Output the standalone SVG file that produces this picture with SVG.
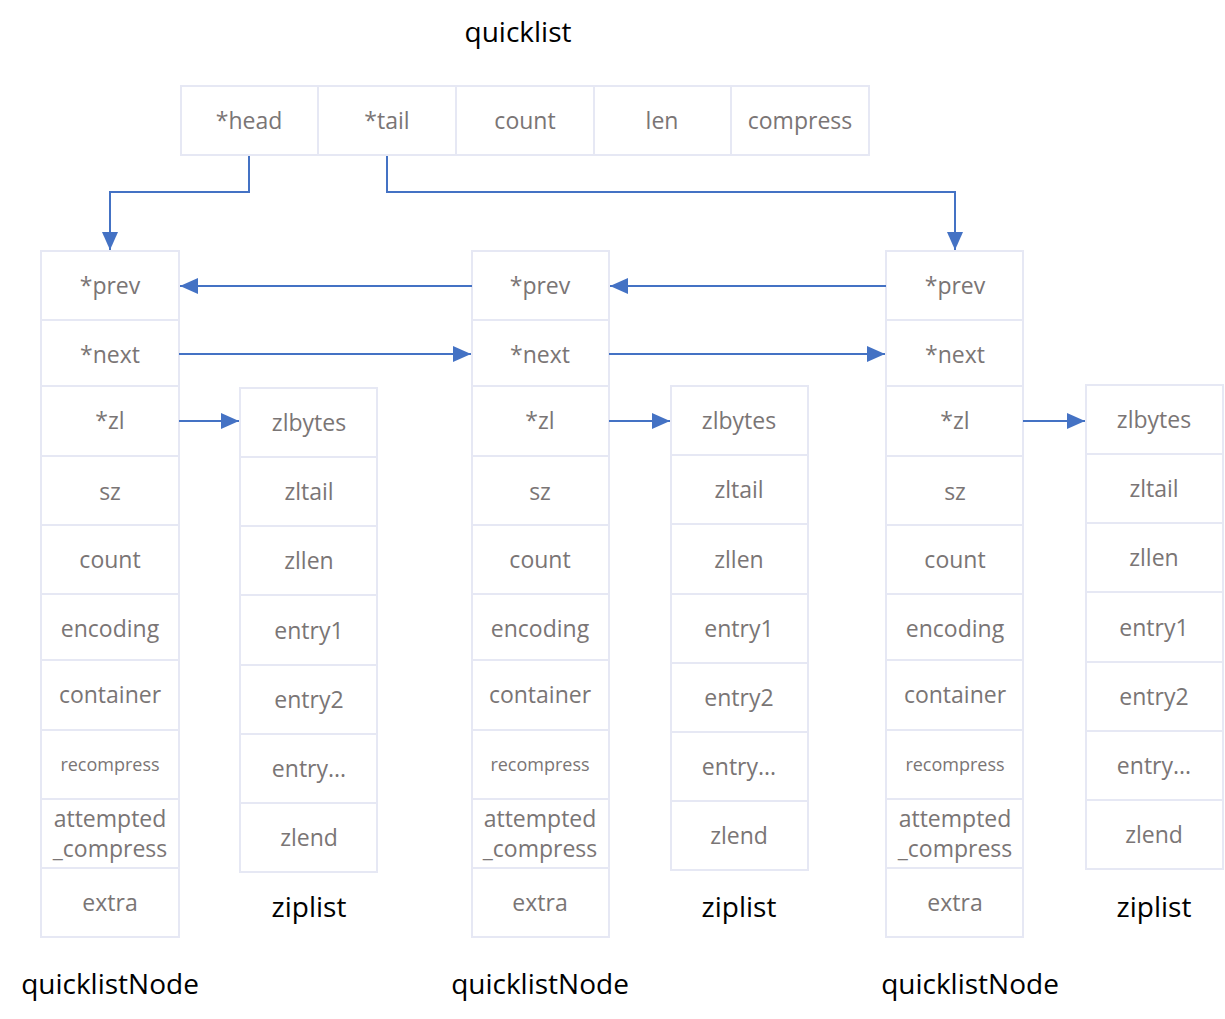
<svg xmlns="http://www.w3.org/2000/svg" width="1225" height="1019" viewBox="0 0 1225 1019">
<style>
.c{fill:#ffffff;stroke:#e6e8f4;stroke-width:2}
.t{font-family:"Open Sans","Noto Sans","DejaVu Sans",sans-serif;font-size:23px;fill:#7a7575;text-anchor:middle;dominant-baseline:central}
.s{font-size:18px}
.l{font-family:"Open Sans","Noto Sans","DejaVu Sans",sans-serif;font-size:28px;fill:#000000;text-anchor:middle;dominant-baseline:central}
.a{fill:none;stroke:#4472c4;stroke-width:2}
</style>
<defs>
<marker id="arr" viewBox="0 0 18 16" refX="18" refY="8" markerWidth="18" markerHeight="16" orient="auto" markerUnits="userSpaceOnUse">
<path d="M0,0 L18,8 L0,16 z" fill="#4472c4"/>
</marker>
</defs>

<text class="l" x="518" y="31">quicklist</text>

<g id="quicklist">
<rect class="c" x="181" y="86" width="137" height="69"/><text class="t" x="249" y="120">*head</text>
<rect class="c" x="318" y="86" width="138" height="69"/><text class="t" x="387" y="120">*tail</text>
<rect class="c" x="456" y="86" width="138" height="69"/><text class="t" x="525" y="120">count</text>
<rect class="c" x="594" y="86" width="137" height="69"/><text class="t" x="662" y="120">len</text>
<rect class="c" x="731" y="86" width="138" height="69"/><text class="t" x="800" y="120">compress</text>
</g>

<g id="node1">
<rect class="c" x="41" y="251" width="138" height="69"/><text class="t" x="110" y="285">*prev</text>
<rect class="c" x="41" y="320" width="138" height="66"/><text class="t" x="110" y="354">*next</text>
<rect class="c" x="41" y="386" width="138" height="70"/><text class="t" x="110" y="420">*zl</text>
<rect class="c" x="41" y="456" width="138" height="69"/><text class="t" x="110" y="491">sz</text>
<rect class="c" x="41" y="525" width="138" height="69"/><text class="t" x="110" y="559">count</text>
<rect class="c" x="41" y="594" width="138" height="66"/><text class="t" x="110" y="628">encoding</text>
<rect class="c" x="41" y="660" width="138" height="70"/><text class="t" x="110" y="694">container</text>
<rect class="c" x="41" y="730" width="138" height="69"/><text class="t s" x="110" y="764">recompress</text>
<rect class="c" x="41" y="799" width="138" height="69"/><text class="t" x="110" y="818">attempted</text><text class="t" x="110" y="848">_compress</text>
<rect class="c" x="41" y="868" width="138" height="69"/><text class="t" x="110" y="902">extra</text>
<text class="l" x="110" y="983">quicklistNode</text>
</g>

<g id="ziplist1">
<rect class="c" x="240" y="388" width="137" height="69"/><text class="t" x="309" y="422">zlbytes</text>
<rect class="c" x="240" y="457" width="137" height="69"/><text class="t" x="309" y="491">zltail</text>
<rect class="c" x="240" y="526" width="137" height="69"/><text class="t" x="309" y="560">zllen</text>
<rect class="c" x="240" y="595" width="137" height="70"/><text class="t" x="309" y="630">entry1</text>
<rect class="c" x="240" y="665" width="137" height="69"/><text class="t" x="309" y="699">entry2</text>
<rect class="c" x="240" y="734" width="137" height="69"/><text class="t" x="309" y="768">entry...</text>
<rect class="c" x="240" y="803" width="137" height="69"/><text class="t" x="309" y="837">zlend</text>
<text class="l" x="309" y="906">ziplist</text>
</g>

<g id="node2">
<rect class="c" x="472" y="251" width="137" height="69"/><text class="t" x="540" y="285">*prev</text>
<rect class="c" x="472" y="320" width="137" height="66"/><text class="t" x="540" y="354">*next</text>
<rect class="c" x="472" y="386" width="137" height="70"/><text class="t" x="540" y="420">*zl</text>
<rect class="c" x="472" y="456" width="137" height="69"/><text class="t" x="540" y="491">sz</text>
<rect class="c" x="472" y="525" width="137" height="69"/><text class="t" x="540" y="559">count</text>
<rect class="c" x="472" y="594" width="137" height="66"/><text class="t" x="540" y="628">encoding</text>
<rect class="c" x="472" y="660" width="137" height="70"/><text class="t" x="540" y="694">container</text>
<rect class="c" x="472" y="730" width="137" height="69"/><text class="t s" x="540" y="764">recompress</text>
<rect class="c" x="472" y="799" width="137" height="69"/><text class="t" x="540" y="818">attempted</text><text class="t" x="540" y="848">_compress</text>
<rect class="c" x="472" y="868" width="137" height="69"/><text class="t" x="540" y="902">extra</text>
<text class="l" x="540" y="983">quicklistNode</text>
</g>

<g id="ziplist2">
<rect class="c" x="671" y="386" width="137" height="69"/><text class="t" x="739" y="420">zlbytes</text>
<rect class="c" x="671" y="455" width="137" height="69"/><text class="t" x="739" y="489">zltail</text>
<rect class="c" x="671" y="524" width="137" height="70"/><text class="t" x="739" y="559">zllen</text>
<rect class="c" x="671" y="594" width="137" height="69"/><text class="t" x="739" y="628">entry1</text>
<rect class="c" x="671" y="663" width="137" height="69"/><text class="t" x="739" y="697">entry2</text>
<rect class="c" x="671" y="732" width="137" height="69"/><text class="t" x="739" y="766">entry...</text>
<rect class="c" x="671" y="801" width="137" height="69"/><text class="t" x="739" y="835">zlend</text>
<text class="l" x="739" y="906">ziplist</text>
</g>

<g id="node3">
<rect class="c" x="886" y="251" width="137" height="69"/><text class="t" x="955" y="285">*prev</text>
<rect class="c" x="886" y="320" width="137" height="66"/><text class="t" x="955" y="354">*next</text>
<rect class="c" x="886" y="386" width="137" height="70"/><text class="t" x="955" y="420">*zl</text>
<rect class="c" x="886" y="456" width="137" height="69"/><text class="t" x="955" y="491">sz</text>
<rect class="c" x="886" y="525" width="137" height="69"/><text class="t" x="955" y="559">count</text>
<rect class="c" x="886" y="594" width="137" height="66"/><text class="t" x="955" y="628">encoding</text>
<rect class="c" x="886" y="660" width="137" height="70"/><text class="t" x="955" y="694">container</text>
<rect class="c" x="886" y="730" width="137" height="69"/><text class="t s" x="955" y="764">recompress</text>
<rect class="c" x="886" y="799" width="137" height="69"/><text class="t" x="955" y="818">attempted</text><text class="t" x="955" y="848">_compress</text>
<rect class="c" x="886" y="868" width="137" height="69"/><text class="t" x="955" y="902">extra</text>
<text class="l" x="970" y="983">quicklistNode</text>
</g>

<g id="ziplist3">
<rect class="c" x="1086" y="385" width="137" height="69"/><text class="t" x="1154" y="419">zlbytes</text>
<rect class="c" x="1086" y="454" width="137" height="69"/><text class="t" x="1154" y="488">zltail</text>
<rect class="c" x="1086" y="523" width="137" height="69"/><text class="t" x="1154" y="557">zllen</text>
<rect class="c" x="1086" y="592" width="137" height="70"/><text class="t" x="1154" y="627">entry1</text>
<rect class="c" x="1086" y="662" width="137" height="69"/><text class="t" x="1154" y="696">entry2</text>
<rect class="c" x="1086" y="731" width="137" height="69"/><text class="t" x="1154" y="765">entry...</text>
<rect class="c" x="1086" y="800" width="137" height="69"/><text class="t" x="1154" y="834">zlend</text>
<text class="l" x="1154" y="906">ziplist</text>
</g>

<g id="connectors">
<path class="a" d="M249,156 V192 H110 V250" marker-end="url(#arr)"/>
<path class="a" d="M387,156 V192 H955 V250" marker-end="url(#arr)"/>
<path class="a" d="M472,286 H180" marker-end="url(#arr)"/>
<path class="a" d="M886,286 H610" marker-end="url(#arr)"/>
<path class="a" d="M179,354 H471" marker-end="url(#arr)"/>
<path class="a" d="M609,354 H885" marker-end="url(#arr)"/>
<path class="a" d="M179,421 H239" marker-end="url(#arr)"/>
<path class="a" d="M609,421 H670" marker-end="url(#arr)"/>
<path class="a" d="M1023,421 H1085" marker-end="url(#arr)"/>
</g>
</svg>
